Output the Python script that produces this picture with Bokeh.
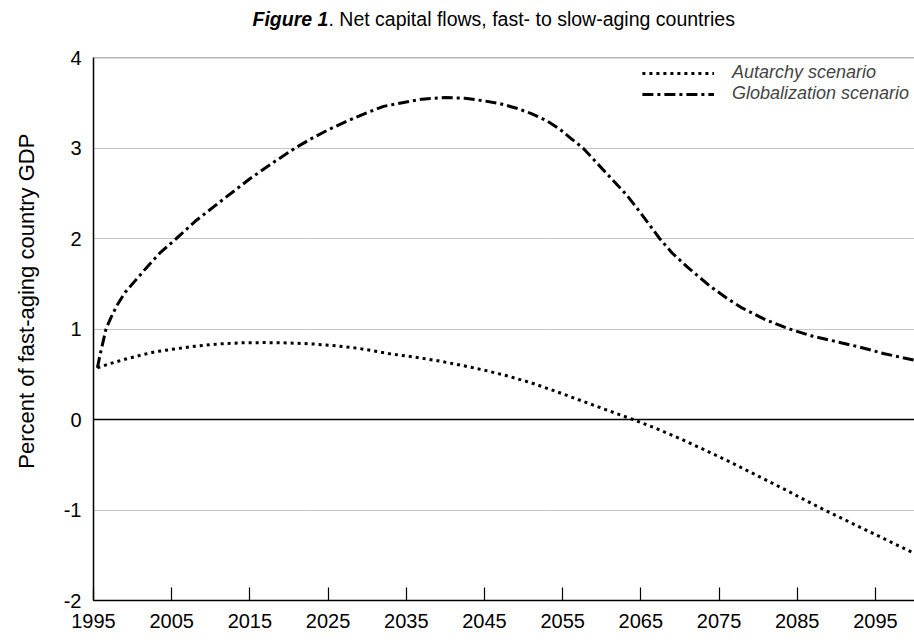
import math
from bokeh.plotting import figure
from bokeh.layouts import column, row
from bokeh.models import Range1d, FixedTicker, Span, Legend, LegendItem
from bokeh.embed import file_html
from bokeh.resources import INLINE
from bokeh.core.properties import value

# ---- data ----
glob_years = [1995.5, 1995.8, 1996.2, 1996.6, 1997.2, 1998.0, 1999.0, 2000.4, 2002.0, 2003.5,
              2005.6, 2008.0, 2011.4, 2015.0, 2018.0, 2020.8, 2023.0, 2025.0, 2027.5, 2030.0,
              2032.1, 2034.5, 2037.0, 2040.0, 2042.5, 2045.0, 2047.0, 2049.1, 2051.0, 2053.0,
              2054.6, 2056.0, 2057.6, 2059.0, 2060.5, 2062.0, 2063.2, 2065.0, 2067.4, 2069.0,
              2071.0, 2073.9, 2076.0, 2078.0, 2081.0, 2084.0, 2087.0, 2090.0, 2093.0, 2096.0,
              2100.0]
glob_values = [0.57, 0.70, 0.85, 1.00, 1.12, 1.26, 1.40, 1.54, 1.70, 1.84,
               2.00, 2.19, 2.42, 2.66, 2.84, 3.00, 3.11, 3.20, 3.30, 3.39,
               3.46, 3.50, 3.54, 3.557, 3.55, 3.52, 3.49, 3.44, 3.38, 3.30,
               3.21, 3.11, 3.00, 2.87, 2.73, 2.59, 2.48, 2.28, 2.00, 1.84,
               1.68, 1.47, 1.34, 1.23, 1.10, 1.00, 0.92, 0.86, 0.80, 0.73,
               0.655]

aut_years = [1995.5, 1997, 1999, 2001, 2003, 2005, 2008, 2011, 2014, 2017,
             2020, 2023, 2026, 2029, 2033, 2036, 2039, 2042, 2045, 2048,
             2051, 2054, 2057, 2060, 2064, 2067, 2070, 2073, 2076.8, 2080,
             2083, 2086, 2088.5, 2091, 2094, 2097, 2100]
aut_values = [0.57, 0.615, 0.665, 0.71, 0.75, 0.775, 0.81, 0.835, 0.847, 0.85,
              0.846, 0.835, 0.815, 0.785, 0.725, 0.69, 0.65, 0.60, 0.545, 0.48,
              0.405, 0.315, 0.22, 0.125, 0.0, -0.10, -0.21, -0.33, -0.486, -0.625,
              -0.755, -0.89, -1.0, -1.105, -1.23, -1.355, -1.48]

x_ticks = [1995, 2005, 2015, 2025, 2035, 2045, 2055, 2065, 2075, 2085, 2095]
y_ticks = [-2, -1, 0, 1, 2, 3, 4]
grid_ticks = [-1, 1, 2, 3]
series_names = ["Autarchy scenario", "Globalization scenario"]
title_bold = "Figure 1"
title_rest = ". Net capital flows, fast- to slow-aging countries"
y_label = "Percent of fast-aging country GDP"

FONT = "Liberation Sans"

# ---------------- main plot ----------------
p = figure(width=861, height=595, output_backend="svg", toolbar_location=None,
           x_range=Range1d(1995, 2100), y_range=Range1d(-2, 4),
           min_border_left=40, min_border_top=9, min_border_right=0,
           min_border_bottom=43)
p.outline_line_color = None

p.xgrid.visible = False
p.ygrid.ticker = FixedTicker(ticks=grid_ticks)
p.ygrid.grid_line_color = "#8a8a8a"
p.ygrid.grid_line_dash = "1 1"
p.ygrid.grid_line_width = 1

p.add_layout(Span(location=0, dimension="width", line_color="black", line_width=1.3))
p.add_layout(Span(location=4, dimension="width", line_color="#6e6e6e", line_width=1.5))

p.xaxis.ticker = FixedTicker(ticks=x_ticks)
p.xaxis.major_tick_in = 13
p.xaxis.major_tick_out = 0
p.xaxis.minor_tick_in = 0
p.xaxis.minor_tick_out = 0
p.xaxis.major_tick_line_color = "black"
p.xaxis.major_tick_line_width = 1.2
p.xaxis.axis_line_color = "black"
p.xaxis.axis_line_width = 1.5
p.xaxis.major_label_standoff = 13
p.xaxis.major_label_text_font = FONT
p.xaxis.major_label_text_font_size = "20px"
p.xaxis.major_label_text_color = "black"

p.yaxis.ticker = FixedTicker(ticks=y_ticks)
p.yaxis.major_tick_in = 0
p.yaxis.major_tick_out = 0
p.yaxis.minor_tick_in = 0
p.yaxis.minor_tick_out = 0
p.yaxis.axis_line_color = "black"
p.yaxis.axis_line_width = 1.5
p.yaxis.major_label_standoff = 12
p.yaxis.major_label_text_font = FONT
p.yaxis.major_label_text_font_size = "20px"
p.yaxis.major_label_text_color = "black"
p.yaxis.major_label_overrides = {t: str(t) for t in y_ticks}

r_aut = p.line(aut_years, aut_values, line_color="black", line_width=3,
               line_dash="3 4", line_cap="butt", line_join="round")
r_glob = p.line(glob_years, glob_values, line_color="black", line_width=3,
                line_dash="11 4 3 4", line_cap="butt", line_join="round")

legend = Legend(items=[LegendItem(label=series_names[0], renderers=[r_aut]),
                       LegendItem(label=series_names[1], renderers=[r_glob])],
                location="top_right")
legend.glyph_width = 72
legend.glyph_height = 20
legend.label_height = 20
legend.spacing = 0
legend.padding = 5
legend.margin = 0
legend.label_standoff = 18
legend.label_text_font = FONT
legend.label_text_font_style = "italic"
legend.label_text_font_size = "18px"
legend.background_fill_alpha = 0
legend.border_line_alpha = 0
p.add_layout(legend)

# ---------------- title strip ----------------
t = figure(width=914, height=48, output_backend="svg", toolbar_location=None,
           x_range=Range1d(0, 914), y_range=Range1d(0, 48),
           x_axis_type=None, y_axis_type=None,
           min_border=0, min_border_left=0, min_border_right=0,
           min_border_top=0, min_border_bottom=0)
t.outline_line_color = None
t.grid.visible = False
t.text(x=[252], y=[30], text=[title_bold], text_font=value(FONT),
       text_font_style="bold italic", text_font_size="19.5px",
       text_baseline="middle", text_align="left", text_color="black")
t.text(x=[328], y=[30], text=[title_rest], text_font=value(FONT),
       text_font_style="normal", text_font_size="19.5px",
       text_baseline="middle", text_align="left", text_color="black")

# ---------------- y label strip ----------------
yl = figure(width=53, height=595, output_backend="svg", toolbar_location=None,
            x_range=Range1d(0, 53), y_range=Range1d(0, 595),
            x_axis_type=None, y_axis_type=None,
            min_border=0, min_border_left=0, min_border_right=0,
            min_border_top=0, min_border_bottom=0)
yl.outline_line_color = None
yl.grid.visible = False
yl.text(x=[26], y=[328], text=[y_label], text_font=value(FONT),
        text_font_size="22px", angle=math.pi / 2,
        text_baseline="middle", text_align="center", text_color="black")

layout = column(t, row(yl, p, spacing=0), spacing=0)
open("out.html", "w").write(file_html(layout, INLINE))
